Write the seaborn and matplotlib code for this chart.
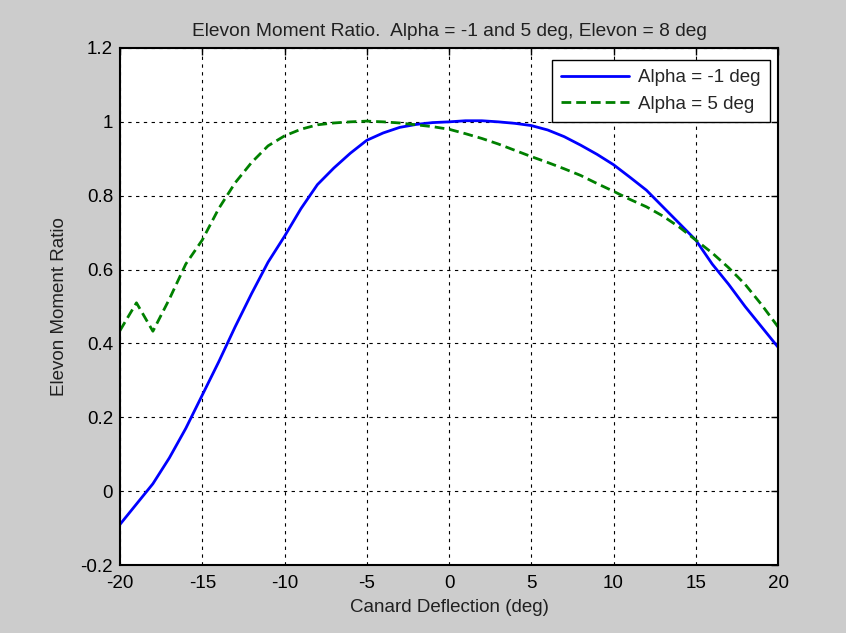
import matplotlib
matplotlib.use("Agg")
import matplotlib.pyplot as plt
import numpy as np
import pandas as pd
import seaborn as sns

# canard deflection (deg)
canard = [-20, -19, -18, -17, -16, -15, -14, -13, -12, -11, -10,
          -9, -8, -7, -6, -5, -4, -3, -2, -1, 0,
          1, 2, 3, 4, 5, 6, 7, 8, 9, 10,
          11, 12, 13, 14, 15, 16, 17, 18, 19, 20]

# elevon moment ratio, alpha = -1 deg
ratio_a1 = [-0.09, -0.035, 0.02, 0.09, 0.17, 0.26, 0.35, 0.445, 0.535, 0.62, 0.69,
            0.765, 0.83, 0.875, 0.915, 0.95, 0.97, 0.985, 0.993, 0.998, 1.0,
            1.003, 1.003, 1.0, 0.996, 0.99, 0.978, 0.96, 0.937, 0.912, 0.884,
            0.85, 0.815, 0.77, 0.725, 0.68, 0.615, 0.56, 0.5, 0.445, 0.39]

# elevon moment ratio, alpha = 5 deg
ratio_a5 = [0.435, 0.51, 0.433, 0.52, 0.615, 0.68, 0.765, 0.835, 0.89, 0.935, 0.962,
            0.98, 0.992, 0.997, 1.0, 1.002, 1.0, 0.997, 0.992, 0.987, 0.98,
            0.968, 0.955, 0.94, 0.923, 0.906, 0.89, 0.873, 0.855, 0.833, 0.812,
            0.79, 0.77, 0.745, 0.715, 0.68, 0.645, 0.605, 0.56, 0.505, 0.445]

sns.set_style("white")
plt.rcParams['font.family'] = ['Liberation Sans', 'DejaVu Sans']
plt.rcParams['axes.unicode_minus'] = False
fs = 13.5

fig = plt.figure(figsize=(8.46, 6.33), dpi=100, facecolor='#cccccc')
ax = fig.add_axes([120 / 846, 68 / 633, 658 / 846, 517 / 633])

df = pd.DataFrame({'canard': canard, 'a1': ratio_a1, 'a5': ratio_a5})
sns.lineplot(data=df, x='canard', y='a1', ax=ax, color=(0, 0, 1), lw=2,
             label='Alpha = -1 deg')
sns.lineplot(data=df, x='canard', y='a5', ax=ax, color=(0, 0.5, 0), lw=2,
             linestyle=(0, (3.5, 1.8)), label='Alpha = 5 deg')

ax.set_xlim(-20, 20)
ax.set_ylim(-0.2, 1.2)
ax.set_xticks(np.arange(-20, 21, 5))
ax.set_yticks(np.arange(-0.2, 1.21, 0.2))
ax.set_yticklabels(['-0.2', '0', '0.2', '0.4', '0.6', '0.8', '1', '1.2'])
ax.grid(True, color='black', linestyle=(0, (3, 4)), linewidth=0.8)
ax.tick_params(direction='in', length=5, width=1, top=True, right=True,
               labelsize=fs, pad=5, colors='black')
ax.tick_params(axis='x', pad=7)
for s in ax.spines.values():
    s.set_color('black')
    s.set_linewidth(1.5)

ax.set_title('Elevon Moment Ratio.  Alpha = -1 and 5 deg, Elevon = 8 deg',
             fontsize=fs + 0.3, pad=9, color='#202020')
ax.set_xlabel('Canard Deflection (deg)', fontsize=fs, labelpad=5, color='#202020')
ax.set_ylabel('Elevon Moment Ratio', fontsize=fs, labelpad=9, color='#202020')

leg = ax.legend(loc='upper right', bbox_to_anchor=(650 / 658, 505 / 517),
                borderaxespad=0, fontsize=fs, fancybox=False, framealpha=1,
                edgecolor='black', handlelength=3.6, borderpad=0.5,
                labelspacing=0.5, handletextpad=0.5)
leg.get_frame().set_linewidth(1)

fig.savefig('out.png', dpi=100, facecolor=fig.get_facecolor())
